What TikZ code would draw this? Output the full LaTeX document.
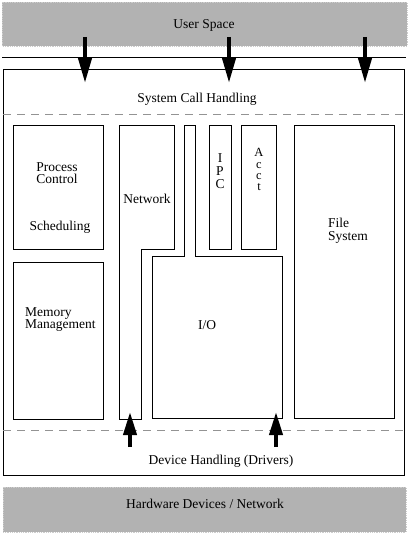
\documentclass[tikz,border=0pt]{standalone}
\usepackage{fontspec}
\setmainfont{Liberation Serif}
\usetikzlibrary{arrows.meta}
\begin{document}
\begin{tikzpicture}[x=1pt,y=-1pt,
  lbl/.style={font=\fontsize{13.5}{12.5}\selectfont, inner sep=0pt},
  ltr/.style={font=\fontsize{12.5}{12.5}\selectfont, inner sep=0pt, anchor=base},
  band/.style={fill=gray!60, draw=gray!40, densely dotted, line width=0.8pt},
  blk/.style={draw=black, line width=1pt},
  sepline/.style={draw=gray!85, dash pattern=on 8pt off 6pt, line width=1pt},
  bigarrow/.style={line width=4pt, -{Triangle[width=13pt,length=25pt]}},
  uparrow/.style={line width=4pt, -{Triangle[width=13pt,length=23pt]}},
]
\useasboundingbox (0,0) rectangle (410,534);
\fill[white] (0,0) rectangle (410,534);
% bands
\path[band] (2,2) rectangle (407,46);
\node[lbl] (us) at (204,25) {User Space};
\path[band] (3,487) rectangle (406,532);
\node[lbl] (hw) at (205,504) {Hardware Devices / Network};
% top line and main box
\draw[blk] (2,58) -- (406,58);
\draw[blk] (3,70) rectangle (404,475);
\draw[sepline] (3,115) -- (404,115);
\draw[sepline] (3,430) -- (404,430);
\node[lbl] (sch) at (197,99) {System Call Handling};
\node[lbl] (dev) at (221,461) {Device Handling (Drivers)};
% inner boxes
\draw[blk] (13,126) rectangle (103,249);
\draw[blk] (13,262) rectangle (103,419);
\draw[blk] (119,126) -- (174,126) -- (174,249) -- (141,249) -- (141,419) -- (119,419) -- cycle;
\draw[blk] (152,256) -- (184,256) -- (184,126) -- (195,126) -- (195,256) -- (282,256) -- (282,418) -- (152,418) -- cycle;
\draw[blk] (209,126) rectangle (231,249);
\draw[blk] (241,126) rectangle (276,249);
\draw[blk] (294,126) rectangle (394,418);
% labels
\node[lbl, align=center] (pc) at (57,173) {Process\\Control};
\node[lbl] (sched) at (60,227) {Scheduling};
\node[lbl, align=left, anchor=west] (mm) at (25,319.5) {Memory\\Management};
\node[lbl] (net) at (147,199) {Network};
\node[lbl, align=center, font=\fontsize{13.5}{13}\selectfont] (ipc) at (220,171) {I\\P\\C};
\node[ltr] (acA) at (259,157) {A};
\node[ltr] (acC1) at (259,168.5) {c};
\node[ltr] (acC2) at (259,180) {c};
\node[ltr] (acT) at (259,191) {t};
\node[lbl] (io) at (207,325) {I/O};
\node[lbl, align=left, anchor=west] (fs) at (328,231) {File\\System};
% arrows
\coordinate (t1s) at (85,37);  \coordinate (t1e) at (85,83);
\coordinate (t2s) at (229,37); \coordinate (t2e) at (229,83);
\coordinate (t3s) at (365,37); \coordinate (t3e) at (365,83);
\draw[bigarrow] (t1s) -- (t1e);
\draw[bigarrow] (t2s) -- (t2e);
\draw[bigarrow] (t3s) -- (t3e);
\coordinate (b1s) at (130,447); \coordinate (b1e) at (130,412);
\coordinate (b2s) at (276,447); \coordinate (b2e) at (276,412);
\draw[uparrow] (b1s) -- (b1e);
\draw[uparrow] (b2s) -- (b2e);
\end{tikzpicture}
\end{document}
